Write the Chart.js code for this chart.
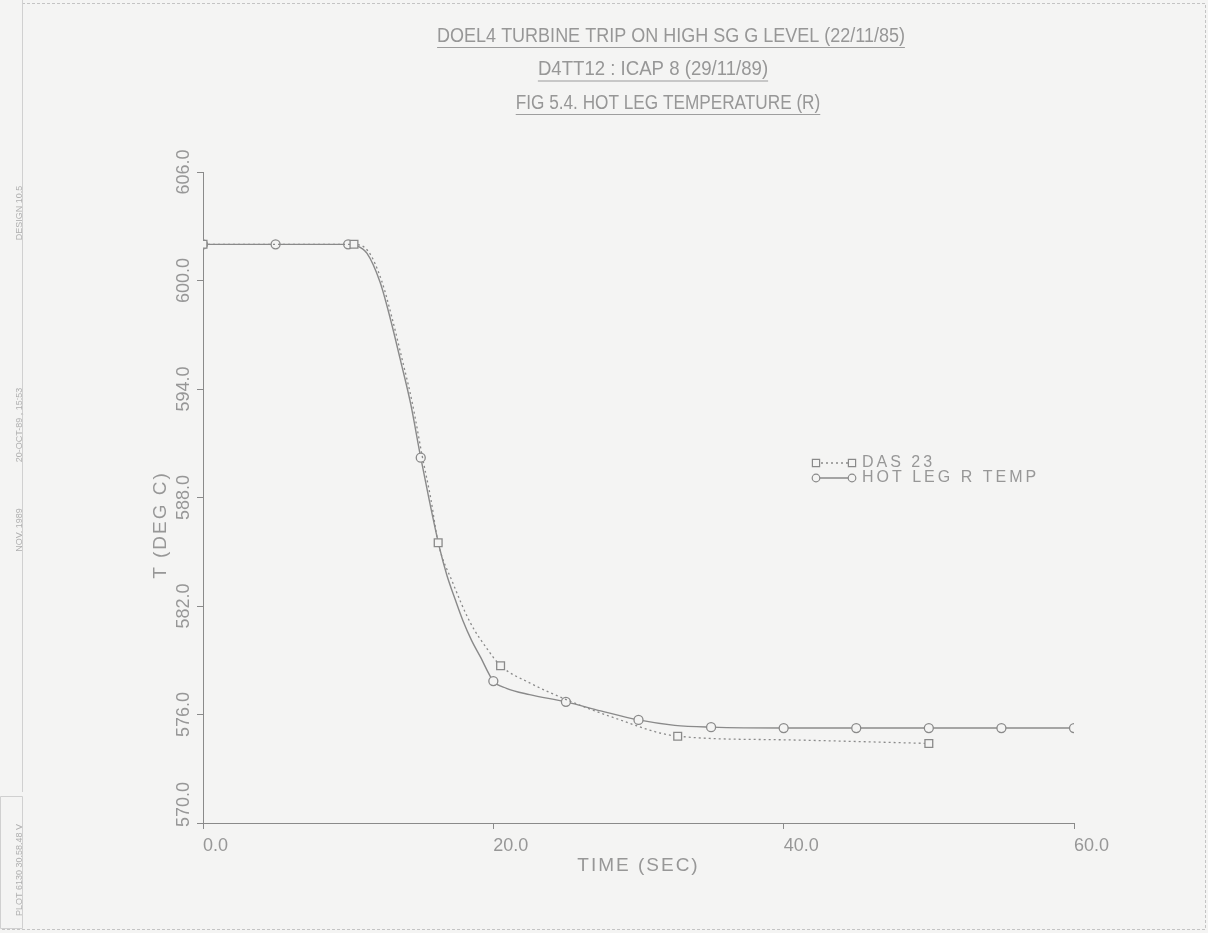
<!DOCTYPE html>
<html><head><meta charset="utf-8">
<script src="https://cdn.jsdelivr.net/npm/chart.js@4.4.1/dist/chart.umd.min.js"></script>
<style>
html,body{margin:0;padding:0;background:#f4f4f3;}
#wrap{position:relative;width:1208px;height:933px;}
canvas{display:block;}
</style></head><body>
<div id="wrap"><canvas id="c" width="1208" height="933"></canvas></div>
<script>
// ---------- data ----------
const titleLines = [
  'DOEL4 TURBINE TRIP ON HIGH SG G LEVEL (22/11/85)',
  'D4TT12 : ICAP 8 (29/11/89)',
  'FIG 5.4. HOT LEG TEMPERATURE (R)'
];
const xTitle = 'TIME (SEC)';
const yTitle = 'T (DEG C)';
const xTicks = [0, 20, 40, 60];
const yTicks = [570, 576, 582, 588, 594, 600, 606];
const marginNotes = ['DESIGN 10.5', '20-OCT-89 , 15:53', 'NOV. 1989', 'PLOT 6130 30.58.48 V'];

const dasLabel = 'DAS 23';
const dasTime = [0, 10.4, 11.4, 12.3, 13.0, 13.7, 14.4, 15.1, 15.7, 16.2, 17.2, 18.4, 19.6, 20.5, 22.5, 25.1, 28.2, 32.7, 40, 50];
const dasTemp = [602.0, 602.0, 601.6, 600.0, 598.0, 595.7, 593.3, 590.3, 587.9, 585.5, 583.3, 581.1, 579.6, 578.7, 577.75, 576.8, 575.85, 574.8, 574.6, 574.4];
const dasMarkerTime = [0, 10.4, 16.2, 20.5, 32.7, 50];

const hotLabel = 'HOT LEG R TEMP';
const hotTime = [0, 5, 10, 10.5, 11.3, 12.2, 12.9, 13.6, 14.3, 15, 15.6, 16.3, 16.8, 17.4, 17.9, 18.5, 19.1, 20, 20.9, 22.5, 25, 27.4, 30, 32.5, 35, 40, 45, 50, 55, 60];
const hotTemp = [602.0, 602.0, 602.0, 601.95, 601.5, 599.9, 597.9, 595.6, 593.2, 590.2, 587.8, 585.2, 583.7, 582.3, 581.2, 580.1, 579.2, 577.85, 577.45, 577.1, 576.7, 576.2, 575.7, 575.4, 575.3, 575.25, 575.25, 575.25, 575.25, 575.25];
const hotMarkerTime = [0, 5, 10, 15, 20, 25, 30, 35, 40, 45, 50, 55, 60];

// ---------- styles ----------
const BG = '#f4f4f3';
const INK = '#8a8a8a';
const TXT = '#979797';
const SANS = '"Liberation Sans", Arial, sans-serif';

function pts(ts, vs){ return ts.map((t,i)=>({x:t, y:vs[i]})); }

const datasets = [
  {
    label: dasLabel,
    data: pts(dasTime, dasTemp),
    borderColor: INK, borderWidth: 1.3, borderDash: [2, 3],
    cubicInterpolationMode: 'monotone',
    pointStyle: 'rect',
    pointRadius: c => dasMarkerTime.includes(dasTime[c.dataIndex]) ? 5.5 : 0,
    pointBackgroundColor: BG, pointBorderColor: INK, pointBorderWidth: 1.3,
    fill: false
  },
  {
    label: hotLabel,
    data: pts(hotTime, hotTemp),
    borderColor: INK, borderWidth: 1.4,
    cubicInterpolationMode: 'monotone',
    pointStyle: 'circle',
    pointRadius: c => hotMarkerTime.includes(hotTime[c.dataIndex]) ? 4.5 : 0,
    pointBackgroundColor: BG, pointBorderColor: INK, pointBorderWidth: 1.3,
    fill: false
  }
];

function drawMarker(ctx, style, x, y, r){
  ctx.beginPath();
  if (style === 'rect') ctx.rect(x - r, y - r, r*2, r*2);
  else ctx.arc(x, y, r, 0, Math.PI*2);
  ctx.fillStyle = BG; ctx.fill(); ctx.stroke();
}

const decor = {
  id: 'decor',
  beforeDraw(chart){
    const ctx = chart.ctx;
    ctx.save();
    ctx.fillStyle = BG;
    ctx.fillRect(0, 0, chart.width, chart.height);
    ctx.strokeStyle = '#c4c4c4'; ctx.lineWidth = 1;
    ctx.setLineDash([3, 2]);
    ctx.beginPath();
    ctx.moveTo(22, 3.5); ctx.lineTo(1205.5, 3.5); ctx.lineTo(1205.5, 929.5); ctx.lineTo(0, 929.5);
    ctx.stroke();
    ctx.setLineDash([]);
    ctx.strokeStyle = '#d0d0d0';
    ctx.beginPath(); ctx.moveTo(22.5, 0); ctx.lineTo(22.5, 792); ctx.stroke();
    ctx.beginPath(); ctx.rect(0.5, 796.5, 22, 132); ctx.stroke();
    ctx.restore();
  },
  afterDraw(chart){
    const ctx = chart.ctx, a = chart.chartArea, ys = chart.scales.y;
    ctx.save();
    ctx.fillStyle = TXT; ctx.strokeStyle = TXT; ctx.lineWidth = 1;
    ctx.textAlign = 'center'; ctx.textBaseline = 'middle';

    // titles with underline (plotter lettering: tall, slightly condensed)
    ctx.font = '20px ' + SANS;
    const centers = [671, 653, 668];
    const squeeze = [0.9, 0.93, 0.86];
    titleLines.forEach((t, i) => {
      const cy = 36 + i * 33.5;
      ctx.save(); ctx.translate(centers[i], cy); ctx.scale(squeeze[i], 1);
      ctx.fillText(t, 0, 0);
      const w = ctx.measureText(t).width;
      ctx.beginPath(); ctx.moveTo(-w/2, 11.5); ctx.lineTo(w/2, 11.5); ctx.stroke();
      ctx.restore();
    });

    // y tick labels (rotated)
    ctx.font = '18px ' + SANS;
    ys.ticks.forEach(tk => {
      const txt = tk.value.toFixed(1);
      const half = ctx.measureText(txt).width / 2;
      let py = ys.getPixelForValue(tk.value);
      py = Math.min(py, a.bottom + 4 - half);
      ctx.save(); ctx.translate(184, py); ctx.rotate(-Math.PI/2);
      ctx.fillText(txt, 0, 0); ctx.restore();
    });

    // axis titles
    ctx.font = '19px ' + SANS;
    ctx.letterSpacing = '2px';
    ctx.save(); ctx.translate(161, 525); ctx.rotate(-Math.PI/2);
    ctx.fillText(yTitle, 0, 0); ctx.restore();
    ctx.fillText(xTitle, (a.left + a.right)/2, 866);

    // legend
    ctx.font = '16px ' + SANS;
    ctx.letterSpacing = '3px';
    ctx.textAlign = 'left';
    chart.data.datasets.forEach((ds, i) => {
      const ly = 463 + i * 15;
      ctx.save();
      ctx.strokeStyle = ds.borderColor; ctx.lineWidth = ds.borderWidth;
      ctx.setLineDash(ds.borderDash || []);
      ctx.beginPath(); ctx.moveTo(816, ly); ctx.lineTo(852, ly); ctx.stroke();
      ctx.setLineDash([]); ctx.lineWidth = 1.2;
      drawMarker(ctx, ds.pointStyle, 816, ly, ds.pointStyle === 'rect' ? 3.6 : 3.8);
      drawMarker(ctx, ds.pointStyle, 852, ly, ds.pointStyle === 'rect' ? 3.6 : 3.8);
      ctx.restore();
      ctx.fillText(ds.label, 862, ly);
    });

    // margin notes
    ctx.letterSpacing = '0px';
    ctx.font = '9px ' + SANS;
    ctx.fillStyle = '#b0b0b0';
    ctx.textAlign = 'center';
    const noteY = [213, 425, 530, 870];
    marginNotes.forEach((t, i) => {
      ctx.save(); ctx.translate(20, noteY[i]); ctx.rotate(-Math.PI/2);
      ctx.fillText(t, 0, 0); ctx.restore();
    });
    ctx.restore();
  }
};

new Chart(document.getElementById('c'), {
  type: 'line',
  data: { datasets },
  options: {
    responsive: false,
    animation: false,
    devicePixelRatio: 1,
    layout: { padding: { left: 0, top: 172, right: 134, bottom: 0 } },
    plugins: { legend: { display: false }, title: { display: false }, tooltip: { enabled: false } },
    scales: {
      x: {
        type: 'linear', min: 0, max: 60,
        afterBuildTicks: s => { s.ticks = xTicks.map(v => ({ value: v })); },
        afterFit: s => { s.height = 110; },
        ticks: {
          callback: v => Number(v).toFixed(1),
          align: 'start', maxRotation: 0, minRotation: 0,
          padding: 6, color: TXT, font: { family: SANS, size: 18 }
        },
        grid: { drawOnChartArea: false, drawTicks: true, tickLength: 6, color: INK },
        border: { display: true, color: INK, dash: [2, 2], width: 1 }
      },
      y: {
        type: 'linear', min: 570, max: 606,
        afterBuildTicks: s => { s.ticks = yTicks.map(v => ({ value: v })); },
        afterFit: s => { s.width = 203; },
        ticks: { display: false },
        grid: { drawOnChartArea: false, drawTicks: true, tickLength: 6, color: INK },
        border: { display: true, color: INK, width: 1 }
      }
    }
  },
  plugins: [decor]
});
</script>
</body></html>
